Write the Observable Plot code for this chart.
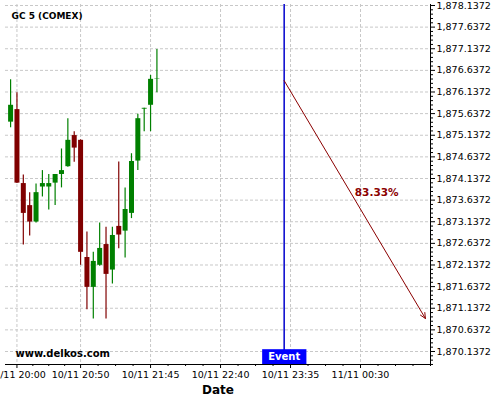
<!DOCTYPE html>
<html>
<head>
<meta charset="utf-8">
<script src="https://cdn.jsdelivr.net/npm/d3@7"></script>
<script src="https://cdn.jsdelivr.net/npm/@observablehq/plot@0.6"></script>
<style>
html, body { margin: 0; padding: 0; background: #fff; }
</style>
</head>
<body>
<div id="chart"></div>
<script>
// ---- data ----
const day = "2021-11-10";
const times = ["19:55","20:00","20:05","20:10","20:15","20:20","20:25","20:30","20:35","20:40","20:45","20:50",
               "20:55","21:00","21:05","21:10","21:15","21:20","21:25","21:30","21:35","21:40","21:45","21:50"];
const opens  = [1875.44,1875.73,1874.02,1873.51,1873.13,1873.94,1873.94,1874.03,1874.23,1874.41,1875.13,1875.02,
                1872.31,1871.62,1872.13,1872.61,1872.02,1873.03,1872.92,1873.33,1874.54,1875.74,1875.83,1876.44];
const highs  = [1876.42,1876.12,1874.22,1873.81,1874.01,1874.32,1874.23,1874.23,1874.82,1875.52,1875.22,1875.03,
                1872.90,1872.43,1873.11,1873.01,1873.01,1874.52,1873.92,1874.71,1875.62,1875.76,1876.52,1877.12];
const lows   = [1875.31,1874.02,1872.60,1872.81,1873.11,1873.71,1873.41,1873.51,1873.92,1874.40,1874.51,1872.13,
                1871.10,1870.89,1872.11,1870.89,1871.70,1872.51,1872.30,1873.21,1874.32,1875.22,1875.22,1876.12];
const closes = [1875.83,1874.03,1873.33,1873.13,1873.81,1874.02,1874.02,1874.23,1874.32,1875.02,1874.84,1872.43,
                1871.62,1872.22,1872.52,1871.92,1872.82,1872.83,1873.42,1874.53,1875.52,1875.76,1876.43,1876.45];

const xTickLabels = ["2021-11-10T20:00","2021-11-10T20:50","2021-11-10T21:45","2021-11-10T22:40","2021-11-10T23:35","2021-11-11T00:30"];
const yTickLabels = [1870.1372,1870.6372,1871.1372,1871.6372,1872.1372,1872.6372,1873.1372,1873.6372,1874.1372,
                     1874.6372,1875.1372,1875.6372,1876.1372,1876.6372,1877.1372,1877.6372,1878.1372];
const xDomain = ["2021-11-10T19:51","2021-11-11T01:25"];
const yDomain = [1869.8365, 1878.1603];

const eventTime = "2021-11-10T23:30";
const eventLabel = "Event";
const arrowStartPrice = 1876.40;
const arrowEndTime = "2021-11-11T01:21";
const arrowEndPrice = 1870.90;
const arrowLabel = "83.33%";
const title = "GC 5 (COMEX)";
const watermark = "www.delkos.com";
const xLabel = "Date";

// ---- build ----
const toDate = s => new Date(s + ":00Z");
const candles = times.map((t, i) => ({
  date: toDate(`${day}T${t}`), open: opens[i], high: highs[i], low: lows[i], close: closes[i]
}));
const colorOf = d => d.close >= d.open ? "#008000" : "#800000";
const xTicks = xTickLabels.map(toDate);
const xMinor = [];
for (let i = 0; i < xTicks.length - 1; i++) {
  const a = +xTicks[i], b = +xTicks[i + 1];
  for (let k = 1; k < 4; k++) xMinor.push(new Date(a + (b - a) * k / 4));
}
{
  const a = +xTicks[xTicks.length - 2], b = +xTicks[xTicks.length - 1];
  const step = (b - a) / 4;
  for (let t = b + step; t <= +toDate(xDomain[1]); t += step) xMinor.push(new Date(t));
}
const yMinor = d3.range(-3, 81).map(i => +(yTickLabels[0] + i * 0.1).toFixed(4))
  .filter(v => v >= yDomain[0] && v <= yDomain[1] && !yTickLabels.some(t => Math.abs(t - v) < 1e-6));

const ev = toDate(eventTime);
const arrowData = [{x1: ev, y1: arrowStartPrice, x2: toDate(arrowEndTime), y2: arrowEndPrice, label: arrowLabel}];
const mid = d => ({x: new Date((+d.x1 + +d.x2) / 2), y: (d.y1 + d.y2) / 2});

const grid = {stroke: "#c8c8c8", strokeOpacity: 1, strokeDasharray: "3,2", strokeWidth: 1};

const plot = Plot.plot({
  width: 500, height: 400,
  marginLeft: 5, marginRight: 70, marginTop: 4, marginBottom: 36,
  style: {fontFamily: "'DejaVu Sans', sans-serif", fontSize: "9.5px", background: "#fff", color: "#000"},
  x: {type: "utc", domain: xDomain.map(toDate)},
  y: {domain: yDomain},
  color: {type: "identity"},
  marks: [
    Plot.ruleY(yTickLabels, grid),
    Plot.ruleX(xTicks, grid),
    Plot.ruleX(candles, {x: "date", y1: "low", y2: "high", stroke: colorOf, strokeWidth: 1.2}),
    Plot.ruleX(candles, {x: "date", y1: "open", y2: "close", stroke: colorOf, strokeWidth: 5}),
    Plot.ruleX([ev], {stroke: "#0000cc", strokeWidth: 1.5}),
    Plot.arrow(arrowData, {x1: "x1", y1: "y1", x2: "x2", y2: "y2", stroke: "#8b0000", strokeWidth: 1, headLength: 9, headAngle: 50}),
    Plot.text(arrowData, {x: d => mid(d).x, y: d => mid(d).y, text: "label", textAnchor: "start", dy: -7,
      fill: "#8b0000", fontWeight: "bold", fontSize: 10.5}),
    Plot.text([title], {text: d => d, frameAnchor: "top-left", dx: 6, dy: 12, lineAnchor: "middle",
      fontWeight: "bold", fontSize: 9}),
    Plot.text([watermark], {text: d => d, frameAnchor: "bottom-left", dx: 10, dy: -11, lineAnchor: "middle",
      fontWeight: "bold", fontSize: 10}),
    Plot.text([ev], {x: d => d, text: () => eventLabel, frameAnchor: "bottom", dy: -7.5, lineAnchor: "middle",
      fill: "#fff", fontWeight: "bold", fontSize: 10}),
    Plot.text([xLabel], {text: d => d, frameAnchor: "bottom", dy: 26, lineAnchor: "middle",
      fontWeight: "bold", fontSize: 12}),
    Plot.axisX(xTicks, {tickFormat: d3.utcFormat("%d/%m %H:%M"), tickSize: 4, tickPadding: 3, label: null}),
    Plot.axisX(xMinor, {tickFormat: () => "", tickSize: 2, label: null}),
    Plot.axisY(yTickLabels, {anchor: "right", tickFormat: d3.format(",.4f"), tickSize: 4, tickPadding: 2, label: null}),
    Plot.axisY(yMinor, {anchor: "right", tickFormat: () => "", tickSize: 2, label: null}),
    Plot.frame({anchor: "bottom"}),
    Plot.frame({anchor: "right"})
  ]
});

document.getElementById("chart").append(plot);

// blue box behind the event label
d3.select(plot).selectAll("text").filter(function () { return this.textContent === eventLabel; }).each(function () {
  const b = this.getBBox();
  d3.select(this.parentNode).insert("rect", () => this)
    .attr("transform", this.getAttribute("transform"))
    .attr("x", b.x - 6).attr("y", b.y + b.height / 2 - 7.5)
    .attr("width", b.width + 12).attr("height", 15)
    .attr("fill", "#0000ff");
});
</script>
</body>
</html>
